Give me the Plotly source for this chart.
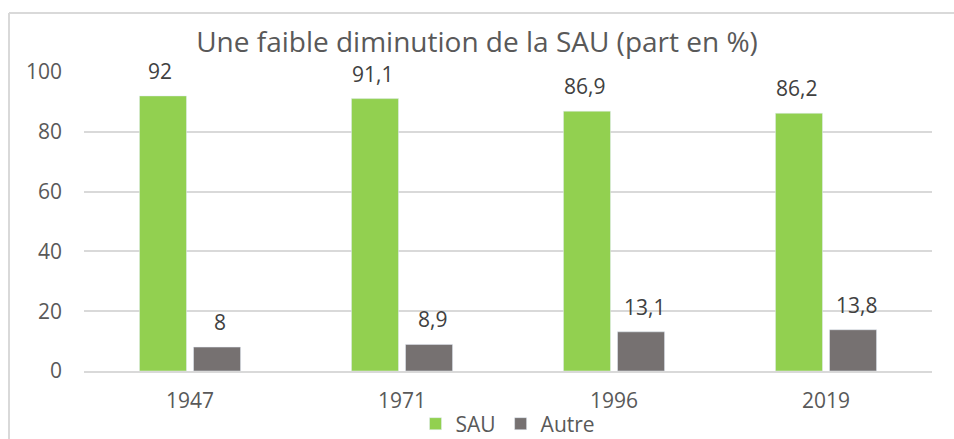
import plotly.graph_objects as go

# Part de la surface agricole utile (SAU) dans le total, en %
annees = ["1947", "1971", "1996", "2019"]
sau = [92, 91.1, 86.9, 86.2]
autre = [8, 8.9, 13.1, 13.8]

vert = "#92D050"
gris = "#767171"
police = "Open Sans"


def etiquette(v):
    # format décimal français : virgule
    return f"{v:g}".replace(".", ",")


fig = go.Figure()
fig.add_trace(go.Bar(name="SAU", x=annees, y=sau, marker_color=vert))
fig.add_trace(go.Bar(name="Autre", x=annees, y=autre, marker_color=gris))

# étiquettes de valeurs, placées au-dessus de chaque barre
# (x = rang de la catégorie sur l'axe catégoriel)
annotations = []
for serie, decalage in ((sau, -30), (autre, 30)):
    for i, v in enumerate(serie):
        annotations.append(dict(
            x=i, y=v, xref="x", yref="y", text=etiquette(v),
            showarrow=False, xshift=decalage, yshift=25,
            xanchor="center", yanchor="middle",
            font=dict(size=21, color="#404040", family=police),
        ))

fig.update_layout(
    width=954, height=439,
    margin=dict(l=84, r=22, t=72, b=68, autoexpand=False),
    paper_bgcolor="white", plot_bgcolor="white",
    font=dict(family=police, color="#595959", size=21),
    barmode="group", bargap=0.49, bargroupgap=0.13,
    title=dict(
        text="Une faible diminution de la SAU (part en %)",
        x=0.5, xanchor="center", y=1 - 42 / 439, yanchor="middle",
        font=dict(size=28, color="#595959", family=police),
    ),
    xaxis=dict(
        type="category", categoryorder="array", categoryarray=annees,
        range=[-0.5, len(annees) - 0.5],
        showgrid=False, showline=True, linecolor="#D9D9D9", linewidth=1.5,
        ticks="", tickfont=dict(size=21), ticklabelstandoff=10,
    ),
    yaxis=dict(
        range=[0, 100], dtick=20, showgrid=True, gridcolor="#D9D9D9",
        gridwidth=1.5, zeroline=False, showline=False, ticks="",
        tickfont=dict(size=21), ticklabelstandoff=21,
    ),
    legend=dict(
        orientation="h", x=0.5, xanchor="center",
        y=-(424 - 371) / 299, yanchor="middle",
        font=dict(size=21, color="#595959"), itemwidth=30,
        traceorder="normal", bgcolor="rgba(0,0,0,0)",
    ),
    annotations=annotations,
    shapes=[
        # cadre du graphique
        dict(type="line", xref="paper", yref="paper",
             x0=(9 - 84) / 848, x1=(954 - 84) / 848,
             y0=(371 - 13) / 299, y1=(371 - 13) / 299,
             line=dict(color="#D9D9D9", width=2)),
        dict(type="line", xref="paper", yref="paper",
             x0=(9 - 84) / 848, x1=(9 - 84) / 848,
             y0=(371 - 13) / 299, y1=(371 - 445) / 299,
             line=dict(color="#D9D9D9", width=2)),
    ],
)

fig.write_html("out.html")
